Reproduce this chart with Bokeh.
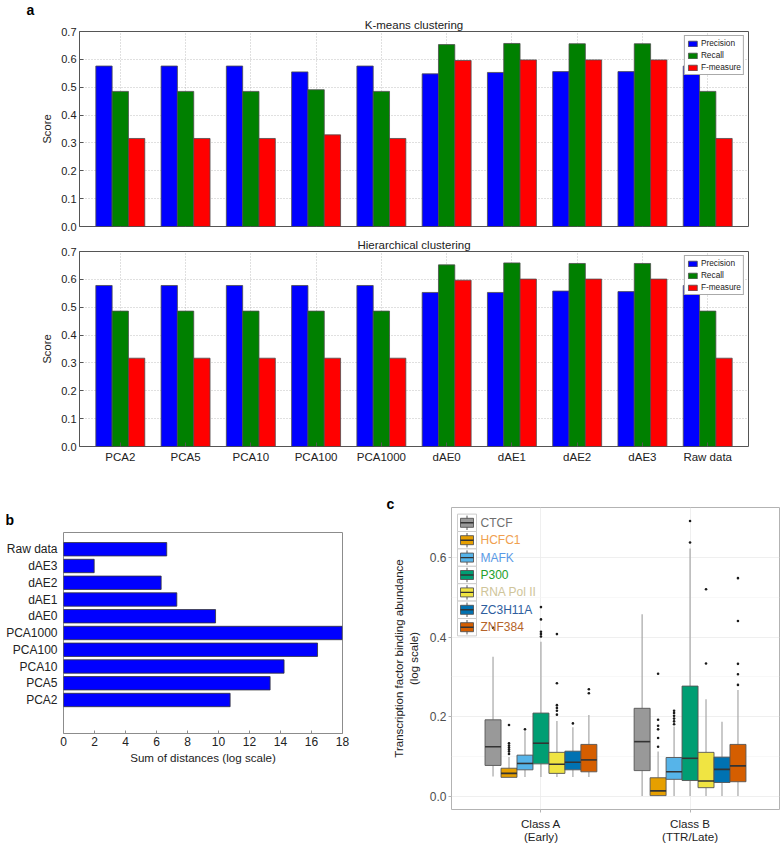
import numpy as np
from bokeh.plotting import figure
from bokeh.layouts import column, row
from bokeh.models import (Range1d, FixedTicker, NumeralTickFormatter, Legend, LegendItem,
                          Label, Title, ColumnDataSource)
from bokeh.embed import file_html
from bokeh.resources import INLINE

FONT = "Liberation Sans"

# ---------------- data: panel a ----------------
methods = ["PCA2", "PCA5", "PCA10", "PCA100", "PCA1000", "dAE0", "dAE1", "dAE2", "dAE3", "Raw data"]
km_precision = [0.576, 0.576, 0.576, 0.555, 0.576, 0.548, 0.553, 0.556, 0.556, 0.576]
km_recall = [0.485, 0.485, 0.485, 0.491, 0.485, 0.653, 0.657, 0.656, 0.656, 0.485]
km_fmeasure = [0.316, 0.316, 0.316, 0.329, 0.316, 0.596, 0.598, 0.598, 0.598, 0.316]
hc_precision = [0.578, 0.578, 0.578, 0.578, 0.578, 0.553, 0.553, 0.558, 0.556, 0.578]
hc_recall = [0.486, 0.486, 0.486, 0.486, 0.486, 0.652, 0.659, 0.657, 0.657, 0.486]
hc_fmeasure = [0.317, 0.317, 0.317, 0.317, 0.317, 0.597, 0.601, 0.601, 0.601, 0.317]
score_series = ["Precision", "Recall", "F-measure"]
score_colors = ["#0000FF", "#008000", "#FF0000"]
score_ticks = [0.0, 0.1, 0.2, 0.3, 0.4, 0.5, 0.6, 0.7]

# ---------------- data: panel b ----------------
dist_methods = ["PCA2", "PCA5", "PCA10", "PCA100", "PCA1000", "dAE0", "dAE1", "dAE2", "dAE3", "Raw data"]
dist_values = [10.75, 13.33, 14.23, 16.39, 17.98, 9.81, 7.31, 6.30, 1.98, 6.66]
dist_ticks = [0, 2, 4, 6, 8, 10, 12, 14, 16, 18]

# ---------------- data: panel c ----------------
tfs = ["CTCF", "HCFC1", "MAFK", "P300", "RNA Pol II", "ZC3H11A", "ZNF384"]
tf_colors = ["#999999", "#E69F00", "#56B4E9", "#009E73", "#F0E442", "#0072B2", "#D55E00"]
tf_label_colors = ["#6E6E6E", "#F0A050", "#5A9AE6", "#22A02A", "#CFC59A", "#2E5E9E", "#B5642A"]
class_labels = ["Class A\n(Early)", "Class B\n(TTR/Late)"]
tf_ticks = [0.0, 0.2, 0.4, 0.6]

a_lower = [0.049, 0.047, 0.048, 0.048, 0.048, 0.048, 0.048]
a_q1 = [0.077, 0.047, 0.066, 0.081, 0.057, 0.066, 0.061]
a_median = [0.124, 0.057, 0.082, 0.133, 0.080, 0.085, 0.091]
a_q3 = [0.192, 0.070, 0.103, 0.209, 0.110, 0.113, 0.130]
a_upper = [0.351, 0.098, 0.163, 0.389, 0.189, 0.173, 0.204]
a_outliers = [[0.424],
              [0.179, 0.133, 0.127, 0.122, 0.117, 0.112, 0.106],
              [0.168],
              [0.476, 0.445, 0.414, 0.408, 0.402],
              [0.408, 0.284, 0.229, 0.222, 0.215, 0.205],
              [0.183],
              [0.269, 0.259]]

b_lower = [0.0, 0.0, 0.0, 0.0, 0.0, 0.0, 0.0]
b_q1 = [0.064, 0.001, 0.042, 0.039, 0.021, 0.034, 0.036]
b_median = [0.137, 0.013, 0.061, 0.095, 0.038, 0.067, 0.076]
b_q3 = [0.221, 0.046, 0.097, 0.277, 0.110, 0.098, 0.130]
b_upper = [0.458, 0.112, 0.175, 0.624, 0.244, 0.187, 0.267]
b_outliers = [[],
              [0.308, 0.192, 0.177, 0.168, 0.146, 0.124],
              [0.215, 0.209, 0.202, 0.195, 0.188, 0.181],
              [0.693, 0.639],
              [0.521, 0.334],
              [],
              [0.549, 0.441, 0.333, 0.307, 0.280]]


# ---------------- helpers ----------------
def xd(px, f0, flen, r0, r1):
    return r0 + (px - f0) / flen * (r1 - r0)


def yd(py, f0, flen, r0, r1):
    return r1 - (py - f0) / flen * (r1 - r0)


def panel_title(text, size, bold, align, offset, standoff, color="#222222"):
    return Title(text=text, align=align, offset=offset, standoff=standoff,
                 text_font=FONT, text_font_size=size,
                 text_font_style="bold" if bold else "normal", text_color=color)


# ---------------- panel a ----------------
A_W = 783
A_LEFT, A_FW = 79, 669
A_XR = (-0.25, 10.0)
A_YR = (0.0, 0.7)
group_centers = [i + 0.375 for i in range(len(methods))]


def score_panel(title, values, show_x, height, top_b, bottom_b, title_standoff, panel_letter=None):
    p = figure(width=A_W, height=height, title=None,
               x_range=Range1d(*A_XR), y_range=Range1d(*A_YR),
               min_border_left=A_LEFT, min_border_right=A_W - A_LEFT - A_FW,
               min_border_top=top_b, min_border_bottom=bottom_b,
               output_backend="svg", toolbar_location=None)
    idx = np.arange(len(methods))
    items = []
    for j, (vals, col, name) in enumerate(zip(values, score_colors, score_series)):
        r = p.vbar(x=idx + 0.125 + 0.25 * j, top=vals, width=0.25, bottom=0,
                   fill_color=col, line_color="#4d4d4d", line_width=0.8)
        items.append(LegendItem(label=name, renderers=[r]))
    leg = Legend(items=items, location="top_right", margin=4, padding=2, spacing=2,
                 glyph_width=11, glyph_height=7, label_standoff=3, label_height=9,
                 label_text_font=FONT, label_text_font_size="8.3px", label_text_color="#222222",
                 border_line_color="#555555", border_line_width=1, background_fill_alpha=1)
    p.add_layout(leg)

    p.outline_line_color = "#555555"
    p.outline_line_width = 1
    p.ygrid.ticker = FixedTicker(ticks=score_ticks)
    p.xgrid.ticker = FixedTicker(ticks=group_centers)
    for g in (p.xgrid, p.ygrid):
        g.grid_line_color = "#b0b0b0"
        g.grid_line_dash = "1 2"
        g.grid_line_width = 0.8

    ya = p.yaxis[0]
    ya.ticker = FixedTicker(ticks=score_ticks)
    ya.formatter = NumeralTickFormatter(format="0.0")
    ya.major_label_text_font = FONT
    ya.major_label_text_font_size = "11px"
    ya.major_label_text_color = "#222222"
    ya.major_tick_in = 4
    ya.major_tick_out = 0
    ya.major_tick_line_color = "#555555"
    ya.minor_tick_line_color = None
    ya.axis_line_color = None
    ya.major_label_standoff = 3
    ya.axis_label = "Score"
    ya.axis_label_text_font = FONT
    ya.axis_label_text_font_size = "11.2px"
    ya.axis_label_text_font_style = "normal"
    ya.axis_label_text_color = "#222222"
    ya.axis_label_standoff = 5

    xa = p.xaxis[0]
    if show_x:
        xa.ticker = FixedTicker(ticks=group_centers)
        xa.major_label_overrides = {c: m for c, m in zip(group_centers, methods)}
        xa.major_label_text_font = FONT
        xa.major_label_text_font_size = "11.5px"
        xa.major_label_text_color = "#222222"
        xa.major_tick_in = 4
        xa.major_tick_out = 0
        xa.major_tick_line_color = "#555555"
        xa.minor_tick_line_color = None
        xa.axis_line_color = None
        xa.major_label_standoff = 4
    else:
        xa.visible = False

    p.add_layout(panel_title(title, "11.5px", False, "center", 9.5, title_standoff), "above")
    if panel_letter:
        p.add_layout(panel_title(panel_letter, "14px", True, "left", 26 - A_LEFT, -3, "#000000"),
                     "above")
    p.background_fill_color = "white"
    p.border_fill_color = "white"
    return p


pa1 = score_panel("K-means clustering", [km_precision, km_recall, km_fmeasure], False,
                  233, 31, 7, 1, panel_letter="a")
pa2 = score_panel("Hierarchical clustering", [hc_precision, hc_recall, hc_fmeasure], True,
                  249, 18, 36, 1)

# ---------------- panel b ----------------
B_W, B_H = 378, 364
B_L, B_FW, B_T, B_FH = 63, 279, 50, 201
B_XR = (0, 18)
B_YR = (-2, 10)
pb = figure(width=B_W, height=B_H, title=None,
            x_range=Range1d(*B_XR), y_range=Range1d(*B_YR),
            min_border_left=B_L, min_border_right=B_W - B_L - B_FW,
            min_border_top=B_T, min_border_bottom=B_H - B_T - B_FH,
            output_backend="svg", toolbar_location=None)
bsrc = ColumnDataSource(dict(y=list(range(len(dist_methods))), right=dist_values))
pb.hbar(y="y", right="right", left=0, height=0.8, source=bsrc,
        fill_color="#0000FF", line_color="#333333", line_width=0.8)
pb.xgrid.visible = False
pb.ygrid.visible = False
pb.outline_line_color = "#8c8c8c"
pb.outline_line_width = 1
xb = pb.xaxis[0]
xb.ticker = FixedTicker(ticks=dist_ticks)
xb.major_label_text_font = FONT
xb.major_label_text_font_size = "12px"
xb.major_label_text_color = "#222222"
xb.major_tick_in = 3
xb.major_tick_out = 0
xb.major_tick_line_color = "#8c8c8c"
xb.minor_tick_line_color = None
xb.axis_line_color = None
xb.major_label_standoff = 3
xb.axis_label = "Sum of distances (log scale)"
xb.axis_label_text_font = FONT
xb.axis_label_text_font_size = "11.6px"
xb.axis_label_text_font_style = "normal"
xb.axis_label_text_color = "#222222"
xb.axis_label_standoff = 2
yb = pb.yaxis[0]
yb.ticker = FixedTicker(ticks=list(range(len(dist_methods))))
yb.major_label_overrides = {i: m for i, m in enumerate(dist_methods)}
yb.major_label_text_font = FONT
yb.major_label_text_font_size = "12px"
yb.major_label_text_color = "#222222"
yb.major_tick_in = 0
yb.major_tick_out = 0
yb.minor_tick_line_color = None
yb.axis_line_color = None
yb.major_label_standoff = 6
pb.add_layout(panel_title("b", "14px", True, "left", 5 - B_L, 10, "#000000"), "above")

# ---------------- panel c ----------------
C_W, C_H = 405, 364
C_L, C_FW, C_T, C_FH = 73, 328, 25, 302
C_XR = (0.4, 2.6)
C_YR = (-0.034, 0.727)
CF_L = B_W + C_L          # page x of frame left
CF_T = 482 + C_T          # page y of frame top
pc = figure(width=C_W, height=C_H, title=None,
            x_range=Range1d(*C_XR), y_range=Range1d(*C_YR),
            min_border_left=C_L, min_border_right=C_W - C_L - C_FW,
            min_border_top=C_T, min_border_bottom=C_H - C_T - C_FH,
            output_backend="svg", toolbar_location=None)
pc.outline_line_color = "#b3b3b3"
pc.outline_line_width = 1
pc.ygrid.ticker = FixedTicker(ticks=tf_ticks, minor_ticks=[0.1, 0.3, 0.5])
pc.ygrid.grid_line_color = "#ebebeb"
pc.ygrid.grid_line_width = 0.8
pc.ygrid.minor_grid_line_color = "#f3f3f3"
pc.ygrid.minor_grid_line_width = 0.6
pc.xgrid.ticker = FixedTicker(ticks=[1, 2])
pc.xgrid.grid_line_color = "#ebebeb"
pc.xgrid.grid_line_width = 0.8

slot = 0.75 / len(tfs)
stats = [(a_lower, a_q1, a_median, a_q3, a_upper, a_outliers),
         (b_lower, b_q1, b_median, b_q3, b_upper, b_outliers)]
for k, (lo, q1, med, q3, up, outs) in enumerate(stats):
    cx = [k + 1 + (j - 3) * slot for j in range(len(tfs))]
    src = ColumnDataSource(dict(x=cx, lo=lo, q1=q1, med=med, q3=q3, up=up,
                                left=[c - slot / 2 for c in cx], right=[c + slot / 2 for c in cx],
                                color=tf_colors))
    pc.segment(x0="x", y0="lo", x1="x", y1="q1", source=src, line_color="#a6a6a6", line_width=1.2)
    pc.segment(x0="x", y0="q3", x1="x", y1="up", source=src, line_color="#a6a6a6", line_width=1.2)
    pc.quad(left="left", right="right", bottom="q1", top="q3", source=src,
            fill_color="color", line_color="#555555", line_width=0.9)
    pc.segment(x0="left", y0="med", x1="right", y1="med", source=src,
               line_color="#333333", line_width=1.6)
    ox, oy = [], []
    for j, ol in enumerate(outs):
        ox += [cx[j]] * len(ol)
        oy += ol
    pc.scatter(x=ox, y=oy, size=2.6, marker="circle", fill_color="#1a1a1a", line_color=None)

xc = pc.xaxis[0]
xc.ticker = FixedTicker(ticks=[1, 2])
xc.major_label_overrides = {1: class_labels[0], 2: class_labels[1]}
xc.major_label_text_font = FONT
xc.major_label_text_font_size = "11.6px"
xc.major_label_text_color = "#222222"
xc.major_label_text_line_height = 1.05
xc.major_tick_out = 3
xc.major_tick_in = 0
xc.major_tick_line_color = "#b3b3b3"
xc.minor_tick_line_color = None
xc.axis_line_color = None
xc.major_label_standoff = 4

yc = pc.yaxis[0]
yc.ticker = FixedTicker(ticks=tf_ticks)
yc.formatter = NumeralTickFormatter(format="0.0")
yc.major_label_text_font = FONT
yc.major_label_text_font_size = "12px"
yc.major_label_text_color = "#4d4d4d"
yc.major_tick_out = 3
yc.major_tick_in = 0
yc.major_tick_line_color = "#b3b3b3"
yc.minor_tick_line_color = None
yc.axis_line_color = None
yc.major_label_standoff = 2
yc.axis_label = "Transcription factor binding abundance\n(log scale)"
yc.axis_label_text_font = FONT
yc.axis_label_text_font_size = "11.5px"
yc.axis_label_text_font_style = "normal"
yc.axis_label_text_color = "#222222"
yc.axis_label_standoff = 7

# manual legend (boxplot keys with coloured labels)
key_l, key_r = 457, 476
row_top0, row_h = 513.6, 17.4


def X(px):
    return xd(px, CF_L, C_FW, *C_XR)


def Y(py):
    return yd(py, CF_T, C_FH, *C_YR)


for i, (tf, col, lc) in enumerate(zip(tfs, tf_colors, tf_label_colors)):
    t = row_top0 + i * row_h
    b = t + row_h
    cyp = (t + b) / 2
    pc.quad(left=[X(key_l)], right=[X(key_r)], top=[Y(t)], bottom=[Y(b)],
            fill_color="white", line_color="#cccccc", line_width=1)
    pc.segment(x0=[X(466.5)], y0=[Y(t + 1.5)], x1=[X(466.5)], y1=[Y(b - 1.5)],
               line_color="#555555", line_width=1)
    pc.quad(left=[X(460)], right=[X(473)], top=[Y(cyp - 4.5)], bottom=[Y(cyp + 4.5)],
            fill_color=col, line_color="#555555", line_width=0.9)
    pc.segment(x0=[X(460)], y0=[Y(cyp)], x1=[X(473)], y1=[Y(cyp)],
               line_color="#333333", line_width=1.4)
    pc.add_layout(Label(x=X(480), y=Y(cyp), text=tf, text_align="left", text_baseline="middle",
                        text_font=FONT, text_font_size="12px", text_color=lc))

pc.add_layout(panel_title("c", "14px", True, "left", 386 - CF_L, -8, "#000000"), "above")

bottom_row = row(column(pb), column(pc), spacing=0)
layout = column(pa1, pa2, bottom_row, spacing=0)
open("out.html", "w").write(file_html(layout, INLINE))
